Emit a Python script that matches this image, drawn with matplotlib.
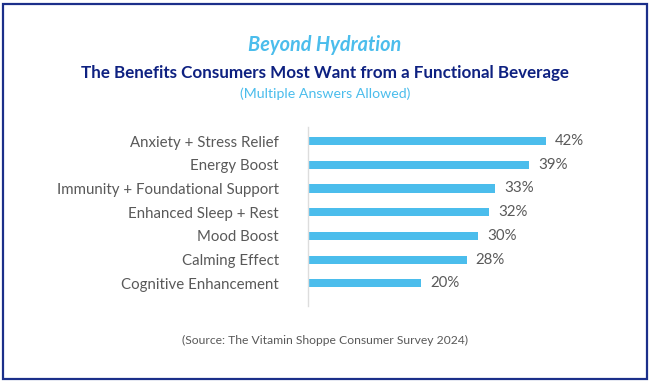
import matplotlib.pyplot as plt
from matplotlib.patches import Rectangle

plt.rcParams['font.family'] = ['Lato', 'DejaVu Sans']

# datos
categorias = ['Anxiety + Stress Relief', 'Energy Boost', 'Immunity + Foundational Support',
              'Enhanced Sleep + Rest', 'Mood Boost', 'Calming Effect', 'Cognitive Enhancement']
valores = [42, 39, 33, 32, 30, 28, 20]

azul = '#4BBDEC'
gris = '#595959'
navy = '#0E2181'

fig = plt.figure(figsize=(6.5, 3.82), dpi=100)
ax = fig.add_axes([308 / 650, 76 / 382, 283.5 / 650, 179 / 382])

y = list(range(len(categorias)))
ax.barh(y, valores, height=0.34, color=azul)
for yi, v in zip(y, valores):
    ax.text(v + 1.6, yi, f'{v}%', va='center', ha='left', fontsize=10.8, color=gris)

ax.set_xlim(0, 50)
ax.set_ylim(6.95, -0.59)
ax.set_yticks(y)
ax.set_yticklabels(categorias, fontsize=10.8, color=gris)
ax.tick_params(axis='y', length=0, pad=21)
ax.set_xticks([])
for s in ['top', 'right', 'bottom']:
    ax.spines[s].set_visible(False)
ax.spines['left'].set_color('#DDDDDD')
ax.spines['left'].set_linewidth(1)

# titulos
fig.text(0.5, 1 - 45 / 382, 'Beyond Hydration', ha='center', va='center',
         fontsize=14.3, color=azul, style='italic', fontweight='bold')
fig.text(0.5, 1 - 73 / 382, 'The Benefits Consumers Most Want from a Functional Beverage',
         ha='center', va='center', fontsize=12.25, color=navy, fontweight='bold')
fig.text(0.5, 1 - 94 / 382, '(Multiple Answers Allowed)', ha='center', va='center',
         fontsize=10.2, color=azul)
fig.text(0.5, 1 - 340 / 382, '(Source: The Vitamin Shoppe Consumer Survey 2024)',
         ha='center', va='center', fontsize=8.7, color=gris)

# marco
fig.patches.append(Rectangle((3 / 650, 3 / 382), 644 / 650, 375 / 382, transform=fig.transFigure,
                             fill=False, edgecolor='#1B2F8A', linewidth=1.6))

fig.savefig('out.png', dpi=100)
